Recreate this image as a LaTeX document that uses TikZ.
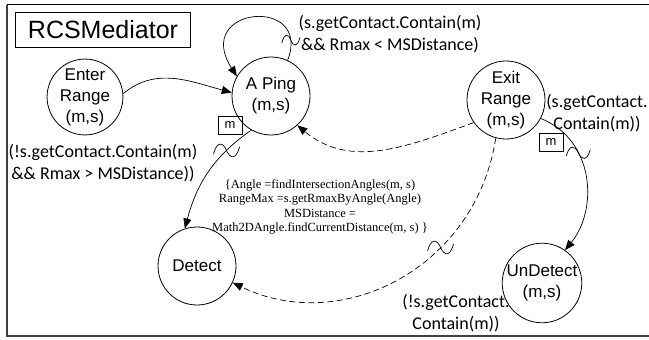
\documentclass[tikz,border=0pt]{standalone}
\usepackage{fontspec}
\setmainfont{Liberation Serif}
\newfontfamily\arialf{Liberation Sans}
\newfontfamily\calf{Carlito}
\usetikzlibrary{arrows.meta}
\begin{document}
\begin{tikzpicture}[x=1pt,y=-1pt,
  state/.style={circle,draw,line width=0.8pt,minimum size=78pt,inner sep=0pt,align=center,font=\arialf\fontsize{17}{21}\selectfont},
  lab/.style={font=\calf\fontsize{18}{22}\selectfont,align=center,inner sep=0pt},
  mbox/.style={draw,line width=0.7pt,font=\arialf\fontsize{13}{15}\selectfont,minimum width=24pt,minimum height=18pt,inner sep=0pt},
  tr/.style={line width=0.7pt,-{Triangle[length=10pt,width=8pt]}},
  dtr/.style={tr,dash pattern=on 6pt off 3.5pt},
  squigline/.style={line width=0.7pt}
]
\useasboundingbox (0,0) rectangle (649,340);
\draw[line width=1.4pt,black!75] (7,4.5) -- (7,336) -- (649,336);
\draw[line width=1.2pt] (7,4.5) -- (649,4.5);

\node[draw,line width=0.8pt,minimum width=175pt,minimum height=35pt,inner sep=0pt,font=\arialf\fontsize{25}{28}\selectfont] (title) at (103,30) {RCSMediator};

\node[state,minimum size=74pt] (enter) at (85,97) {Enter\\Range\\(m,s)};
\node[state] (aping) at (271,96) {A Ping\\(m,s)};
\node[state] (exit) at (506,100) {Exit\\Range\\(m,s)};
\node[state] (detect) at (197,266) {Detect};
\node[state] (undetect) at (542,283) {UnDetect\\(m,s)};

\node[mbox] (m1) at (230,125) {m};
\node[mbox] (m2) at (551,142) {m};

\draw[tr] (enter.5) to[out=40,in=165] (aping.175);
\draw[tr] (aping.65) .. controls +(25,-65) and +(-45,-70) .. coordinate[pos=0.12] (s1) (aping.150);
\draw[tr] (aping.240) to[out=215,in=75] coordinate[pos=0.25] (s2) (detect.108);
\draw[dtr] (exit.215) to[out=200,in=-40] (aping.-48);
\draw[dtr] (exit.255) .. controls (475,270) and (340,335) .. coordinate[pos=0.34] (s3) (detect.-25);
\draw[tr] (exit.-28) .. controls (595,140) and (598,210) .. coordinate[pos=0.33] (s4) (undetect.55);

\foreach \s/\w/\h in {s1/9/7,s2/13/9,s3/13/9,s4/12/8}
  \draw[squigline,shift={(\s)}] (-\w,0.4*\h) .. controls (-0.75*\w,-\h) and (-0.3*\w,-\h) .. (0,0) .. controls (0.3*\w,\h) and (0.75*\w,\h) .. (\w,-0.4*\h);

\node[lab] (l1) at (390,34) {(s.getContact.Contain(m)\\\&\& Rmax < MSDistance)};
\node[lab] (l2) at (103,163) {(!s.getContact.Contain(m)\\\&\& Rmax > MSDistance))};
\node[lab] (l3) at (597,113) {(s.getContact.\\Contain(m))};
\node[lab] (l4) at (456,313) {(!s.getContact.\\Contain(m))};
\node[align=center,inner sep=0pt,font=\fontsize{12.5}{14.5}\selectfont] (code) at (320,207)
  {\{Angle =findIntersectionAngles(m, s)\\RangeMax =s.getRmaxByAngle(Angle)\\MSDistance =\\Math2DAngle.findCurrentDistance(m, s) \}};
\end{tikzpicture}
\end{document}
